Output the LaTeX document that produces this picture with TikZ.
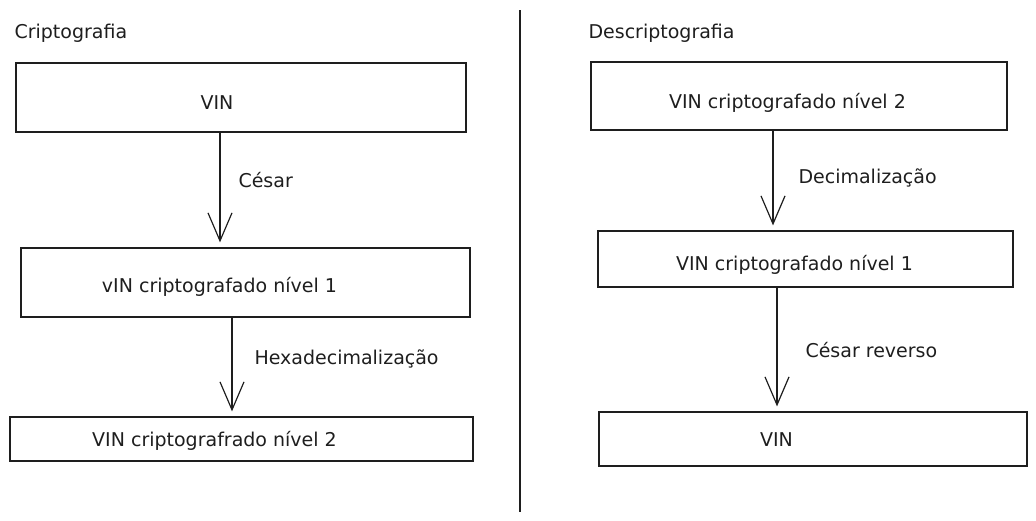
\documentclass[tikz,border=0pt]{standalone}
\usepackage{fontspec}
\setmainfont{DejaVu Sans}
\usetikzlibrary{arrows.meta}
\definecolor{ink}{HTML}{1E1E1E}
\begin{document}
\begin{tikzpicture}[x=1pt,y=-1pt,box/.style={shape=rectangle,draw=ink,line width=1.2pt,inner sep=0pt},txt/.style={text=ink,font=\fontsize{19}{22}\selectfont},lbl/.style={txt,anchor=west},flow/.style={draw=ink,line width=1.2pt,-{Straight Barb[length=28pt,width=24pt]},shorten >=5pt}]
\def\bh{69};
\def\sep{1.2pt};

\useasboundingbox (0,0) rectangle (1036,520);

\node[lbl] (titC) at (11,33) {Criptografia};
\node[lbl] (titD) at (585,33) {Descriptografia};

\coordinate (divT) at (520,10);
\coordinate (divB) at (520,512);
\draw[draw=ink,line width=\sep] (divT) -- (divB);

\node[box,minimum width=450,minimum height=\bh] (C1) at (241,97.5) {};
\node[txt] (tC1) at (217,103) {VIN};
\node[box,minimum width=449,minimum height=\bh] (C2) at (245.5,282.5) {};
\node[txt] (tC2) at (219.5,287) {vIN criptografado nível 1};
\node[box,minimum width=463,minimum height=44] (C3) at (241.5,439) {};
\node[txt] (tC3) at (214.5,441) {VIN criptografrado nível 2};

\draw[flow] ([xshift=-21]C1.south) -- ([xshift=-25.5]C2.north);
\node[lbl] (lC1) at (235,180) {César};
\draw[flow] ([xshift=-13.5]C2.south) -- ([xshift=-9.5]C3.north);
\node[lbl] (lC2) at (251,359) {Hexadecimalização};

\node[box,minimum width=416,minimum height=68] (D1) at (799,96) {};
\node[txt] (tD1) at (787.5,103) {VIN criptografado nível 2};
\node[box,minimum width=415,minimum height=56] (D2) at (805.5,259) {};
\node[txt] (tD2) at (794.5,265) {VIN criptografado nível 1};
\node[box,minimum width=428,minimum height=54] (D3) at (813,439) {};
\node[txt] (tD3) at (776.5,440) {VIN};

\draw[flow] ([xshift=-26]D1.south) -- ([xshift=-32.5]D2.north);
\node[lbl] (lD1) at (795,178) {Decimalização};
\draw[flow] ([xshift=-28.5]D2.south) -- ([xshift=-36]D3.north);
\node[lbl] (lD2) at (802,350) {César reverso};
\end{tikzpicture}
\end{document}
